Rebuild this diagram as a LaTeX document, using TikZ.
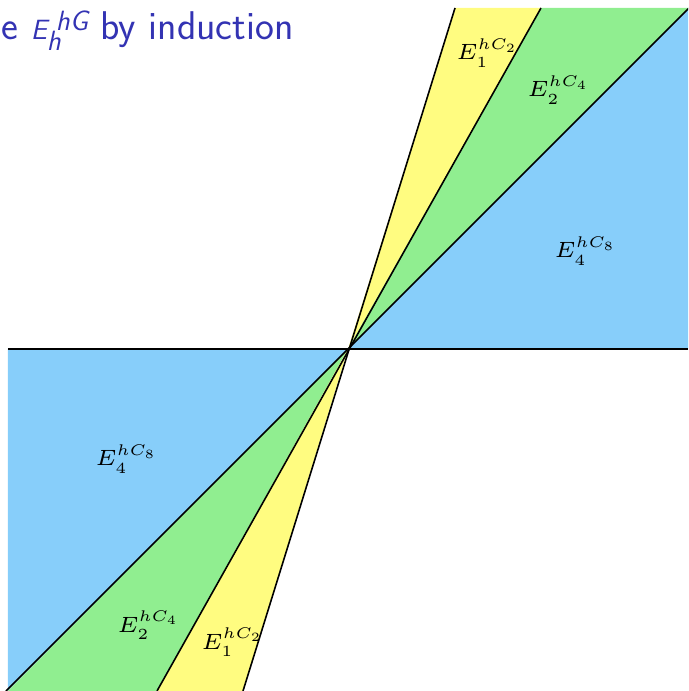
\RequirePackage{fix-cm}
\documentclass[tikz,border=0pt]{standalone}
\usepackage{tikz}
\usetikzlibrary{positioning}
\definecolor{structblue}{RGB}{51,51,179}
\definecolor{skyfill}{HTML}{87CEFA}
\definecolor{greenfill}{HTML}{90EE90}
\definecolor{yellowfill}{HTML}{FFFC80}
\DeclareMathSizes{6.3}{6.3}{4.4}{3.6}
\newcommand{\hgit}{\fontsize{12}{14}\selectfont\itshape}

\begin{document}
\begin{tikzpicture}[
    ray/.style={black, line width=0.45pt},
    lbl/.style={font=\fontsize{6.3}{7.5}\selectfont, inner sep=0pt, anchor=base west},
    title/.style={font=\sffamily\fontsize{17.28}{20}\selectfont, text=structblue, anchor=base west, inner sep=0pt, scale=0.66, transform shape}
]
    \useasboundingbox (-3.48,-3.42) rectangle (3.40,3.49);
    \clip (-3.48,-3.42) rectangle (3.40,3.49);

    % end points of the rays
    \coordinate (o) at (0,0);
    \coordinate (s1) at (1.07,3.41);
    \coordinate (s2) at (-1.05,-3.42);
    \coordinate (m1) at (1.93,3.41);
    \coordinate (m2) at (-1.91,-3.42);
    \coordinate (d1) at (3.41,3.41);
    \coordinate (d2) at (-3.42,-3.42);
    \coordinate (h1) at (3.40,0);
    \coordinate (h2) at (-3.40,0);

    % sectors
    \fill[yellowfill] (o) -- (s1) -- (m1) -- cycle;
    \fill[greenfill] (o) -- (m1) -- (d1) -- cycle;
    \fill[skyfill] (o) -- (d1) -- (3.40,3.41) -- (h1) -- cycle;
    \fill[skyfill] (o) -- (h2) -- (-3.40,-3.42) -- cycle;
    \fill[greenfill] (o) -- (-3.40,-3.42) -- (m2) -- cycle;
    \fill[yellowfill] (o) -- (m2) -- (s2) -- cycle;

    \draw[ray] (h2) -- (h1);
    \draw[ray] (s2) -- (s1);
    \draw[ray] (m2) -- (m1);
    \draw[ray] (d2) -- (d1);

    \node (head) [title] at (-3.47,3.09) {e {\hgit E\rlap{\raisebox{-4.7pt}{h}}\hspace{3.8pt}\raisebox{4.1pt}{hG}} by induction};

    \node (c2up) [lbl] at (1.08,2.89) {$E_1^{hC_2}$};
    \node (c4up) [lbl] at (1.79,2.52) {$E_2^{hC_4}$};
    \node (c8up) [lbl] at (2.06,0.91) {$E_4^{hC_8}$};
    \node (c8lo) [lbl] at (-2.53,-1.17) {$E_4^{hC_8}$};
    \node (c4lo) [lbl] at (-2.31,-2.83) {$E_2^{hC_4}$};
    \node (c2lo) [lbl] at (-1.47,-3.00) {$E_1^{hC_2}$};
\end{tikzpicture}
\end{document}
